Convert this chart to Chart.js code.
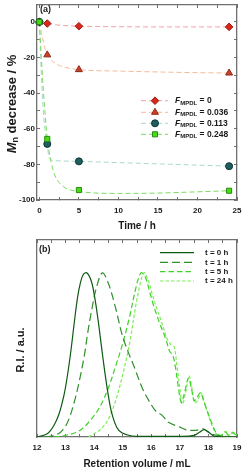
<!DOCTYPE html>
<html>
<head>
<meta charset="utf-8">
<script src="https://cdn.jsdelivr.net/npm/chart.js@4.4.1/dist/chart.umd.min.js"></script>
<style>
  html, body { margin: 0; padding: 0; background: #fff; }
  #chartA { position: absolute; left: 0; top: 0; }
  #chartB { position: absolute; left: 0; top: 232px; }
</style>
</head>
<body>
<canvas id="chartA" width="243" height="234"></canvas>
<canvas id="chartB" width="243" height="239"></canvas>
<script>
// ---- panel (a): Mn decrease vs time ----
const timeH = [0, 1, 5, 24];
const mnF0 = [0, -0.9, -2.4, -2.8];
const mnF036 = [0, -18.5, -26.8, -28.7];
const mnF113 = [0, -68.5, -78.3, -81];
const mnF248 = [0, -65.7, -94.4, -94.8];

// dashed fit curves
const fitTime = [0, 0.25, 0.5, 0.75, 1, 1.25, 1.5, 2, 3, 5, 10, 15, 20, 24];
const fitF0 = [0, -0.3, -0.5, -0.7, -0.9, -1.1, -1.3, -1.6, -2.0, -2.4, -2.7, -2.8, -2.8, -2.8];
const fitF036 = [0, -6, -11, -15.5, -18.5, -20.2, -21.5, -23.3, -25.2, -26.8, -27.6, -28.1, -28.5, -28.7];
const fitF113 = [0, -30, -50, -62, -70, -76.3, -77.5, -77.9, -78.1, -78.3, -79, -79.7, -80.4, -81];
const fitF248 = [0, -20, -38, -53, -65.7, -73, -79, -86.5, -92.3, -95.2, -96.3, -96.1, -95.4, -94.8];

const legendA = ['0', '0.036', '0.113', '0.248'];

// ---- panel (b): GPC traces ----
const volT0 = [12.0, 12.36, 12.59, 12.77, 12.95, 13.07, 13.19, 13.3, 13.42, 13.52, 13.62, 13.74, 13.9, 14.02, 14.14, 14.25, 14.37, 14.49, 14.61, 14.79, 14.97, 15.32, 16, 17, 17.5, 17.7, 17.85, 18.0, 18.2, 18.5, 19];
const riT0 = [0, 0.02, 0.07, 0.14, 0.26, 0.38, 0.53, 0.69, 0.85, 0.94, 0.99, 1.0, 0.95, 0.85, 0.71, 0.56, 0.4, 0.26, 0.15, 0.06, 0.026, 0.006, 0.004, 0.004, 0.01, 0.03, 0.045, 0.03, 0.005, 0, 0];

const volT1 = [12.3, 12.59, 12.83, 13.07, 13.3, 13.48, 13.66, 13.78, 13.9, 14.08, 14.29, 14.51, 14.73, 15.02, 15.44, 15.68, 15.92, 16.15, 16.39, 16.6, 17.0, 17.2, 17.5, 17.7, 17.82, 18.0, 18.17, 18.5, 19];
const riT1 = [0, 0.01, 0.03, 0.09, 0.21, 0.34, 0.5, 0.64, 0.76, 0.91, 1.0, 0.93, 0.8, 0.6, 0.41, 0.3, 0.22, 0.16, 0.13, 0.09, 0.06, 0.045, 0.04, 0.045, 0.05, 0.03, 0.015, 0.005, 0];

const volT5 = [12.6, 13.0, 13.5, 14.0, 14.25, 14.5, 14.75, 15.0, 15.25, 15.45, 15.64, 15.8, 15.95, 16.1, 16.3, 16.5, 16.65, 16.75, 16.85, 16.95, 17.05, 17.15, 17.3, 17.4, 17.5, 17.6, 17.72, 17.85, 18.0, 18.15, 18.3, 18.45, 18.6, 18.7, 18.85, 19.0];
const riT5 = [0, 0.01, 0.04, 0.13, 0.2, 0.3, 0.43, 0.57, 0.74, 0.9, 1.0, 0.97, 0.88, 0.79, 0.69, 0.6, 0.52, 0.5, 0.42, 0.3, 0.21, 0.26, 0.36, 0.3, 0.22, 0.24, 0.27, 0.21, 0.14, 0.07, 0.02, 0.01, 0.03, 0.01, 0.025, 0.005];

const volT24 = [13.8, 14.0, 14.25, 14.5, 14.75, 15.0, 15.25, 15.5, 15.74, 15.9, 16.05, 16.2, 16.4, 16.55, 16.7, 16.8, 16.9, 17.0, 17.08, 17.18, 17.32, 17.42, 17.52, 17.62, 17.74, 17.88, 18.0, 18.15, 18.3, 18.45, 18.6, 18.72, 18.85, 19.0];
const riT24 = [0, 0.02, 0.05, 0.11, 0.22, 0.38, 0.58, 0.84, 1.0, 0.95, 0.86, 0.78, 0.68, 0.6, 0.56, 0.55, 0.43, 0.3, 0.2, 0.25, 0.37, 0.3, 0.21, 0.22, 0.27, 0.2, 0.13, 0.06, 0.015, 0.01, 0.035, 0.01, 0.03, 0.01];

const legendB = ['t = 0 h', 't = 1 h', 't = 5 h', 't = 24 h'];

const FONT = '"Liberation Sans", Arial, sans-serif';
const AXIS = '#707070';

function pts(xs, ys) {
    return xs.map((x, i) => ({ x: x, y: ys[i] }));
}

// draws text pieces one after another: [text, font, dy]
function drawPieces(ctx, parts, x, y) {
    let cx = x;
    parts.forEach(p => {
        ctx.font = p[1];
        ctx.fillText(p[0], cx, y + (p[2] || 0));
        cx += ctx.measureText(p[0]).width;
    });
}
function piecesWidth(ctx, parts) {
    let w = 0;
    parts.forEach(p => { ctx.font = p[1]; w += ctx.measureText(p[0]).width; });
    return w;
}

function stepTicks(from, to, step) {
    const out = [];
    for (let v = from; v <= to + 1e-9; v += step) out.push({ value: Math.round(v * 100) / 100 });
    return out;
}

// fixed scale size, no extra label padding so the plot box lands where wanted
function fixSize(w, h) {
    return s => {
        if (w !== null) s.width = w;
        if (h !== null) s.height = h;
        s.paddingLeft = 0; s.paddingRight = 0; s.paddingTop = 0; s.paddingBottom = 0;
    };
}

// axis box: border line plus short inward tick marks (negative tick length)
function boxAxis(extra) {
    return Object.assign({
        grid: { display: true, drawOnChartArea: false, drawTicks: true, tickLength: -3, tickColor: AXIS, tickWidth: 1 },
        border: { display: true, color: AXIS, width: 1.3 }
    }, extra);
}

const tickFont = { family: FONT, size: 8, weight: 'bold' };

// series styles for panel (a)
const stylesA = [
    { line: '#f2a0a8', fill: '#d8281c', edge: '#a01810', shape: 'rectRot', r: 3.8 },
    { line: '#f6b898', fill: '#cf3f28', edge: '#8a2a18', shape: 'triangle', r: 4 },
    { line: '#a9d9c6', fill: '#1f5e5e', edge: '#0f3434', shape: 'circle', r: 3.5 },
    { line: '#78dc5e', fill: '#46dd14', edge: '#2a8a10', shape: 'rect', r: 3.6 }
];

const textA = {
    id: 'textA',
    afterDraw(chart) {
        const ctx = chart.ctx;
        const a = chart.chartArea;
        ctx.save();
        ctx.fillStyle = '#1a1a1a';
        ctx.textBaseline = 'middle';
        ctx.textAlign = 'left';
        ctx.font = 'bold 9px ' + FONT;
        ctx.fillText('(a)', 40, 10);

        // legend
        const rows = [100.7, 112.3, 123.3, 134.3];
        rows.forEach((y, i) => {
            const s = stylesA[i];
            ctx.strokeStyle = s.line;
            ctx.lineWidth = 1;
            ctx.setLineDash([5, 3]);
            ctx.beginPath();
            ctx.moveTo(141, y); ctx.lineTo(168, y);
            ctx.stroke();
            ctx.setLineDash([]);
            ctx.fillStyle = s.fill;
            ctx.strokeStyle = s.edge;
            Chart.helpers.drawPoint(ctx, { pointStyle: s.shape, radius: s.r, borderWidth: 1, rotation: 0 }, 155, y);
            ctx.fillStyle = '#1a1a1a';
            drawPieces(ctx, [
                ['F', 'italic bold 8.5px ' + FONT, 0],
                ['MPDL', 'bold 6px ' + FONT, 2.5],
                [' = ' + legendA[i], 'bold 8.5px ' + FONT, 0]
            ], 175, y);
        });

        // x title
        ctx.textAlign = 'center';
        ctx.font = 'bold 10px ' + FONT;
        ctx.fillText('Time / h', (a.left + a.right) / 2, 226);

        // y title with subscript
        const parts = [
            ['M', 'italic bold 13px ' + FONT, 0],
            ['n', 'bold 9px ' + FONT, 3.5],
            [' decrease / %', 'bold 13px ' + FONT, 0]
        ];
        ctx.translate(12, 104);
        ctx.rotate(-Math.PI / 2);
        ctx.textAlign = 'left';
        drawPieces(ctx, parts, -piecesWidth(ctx, parts) / 2, 0);
        ctx.restore();
    }
};

const stylesB = [
    { color: '#0e5a12', dash: [] },
    { color: '#2f8f2a', dash: [8, 4] },
    { color: '#3fd02a', dash: [5.5, 3] },
    { color: '#7cee55', dash: [3.5, 2] }
];

const textB = {
    id: 'textB',
    afterDraw(chart) {
        const ctx = chart.ctx;
        const a = chart.chartArea;
        ctx.save();
        ctx.fillStyle = '#1a1a1a';
        ctx.textBaseline = 'middle';
        ctx.textAlign = 'left';
        ctx.font = 'bold 9px ' + FONT;
        ctx.fillText('(b)', 39, 18);

        const rows = [20.7, 30.3, 39.7, 49];
        rows.forEach((y, i) => {
            const s = stylesB[i];
            ctx.strokeStyle = s.color;
            ctx.lineWidth = 1.2;
            ctx.setLineDash(s.dash);
            ctx.beginPath();
            ctx.moveTo(160, y); ctx.lineTo(194, y);
            ctx.stroke();
            ctx.setLineDash([]);
            ctx.font = 'bold 8px ' + FONT;
            ctx.fillText(legendB[i], 205, y);
        });

        ctx.textAlign = 'center';
        ctx.font = 'bold 10px ' + FONT;
        ctx.fillText('Retention volume / mL', (a.left + a.right) / 2, 232);

        ctx.font = 'bold 11px ' + FONT;
        ctx.translate(21, 118);
        ctx.rotate(-Math.PI / 2);
        ctx.fillText('R.I. / a.u.', 0, 0);
        ctx.restore();
    }
};

// ---- chart (a) ----
const seriesA = [
    [fitF0, mnF0], [fitF036, mnF036], [fitF113, mnF113], [fitF248, mnF248]
];
const datasetsA = [];
seriesA.forEach((s, i) => {
    datasetsA.push({
        data: pts(fitTime, s[0]),
        xAxisID: 'x', yAxisID: 'y',
        showLine: true,
        borderColor: stylesA[i].line,
        borderWidth: 1,
        borderDash: [5, 3],
        pointRadius: 0,
        cubicInterpolationMode: 'monotone',
        clip: false,
        order: 10 - i
    });
});
seriesA.forEach((s, i) => {
    datasetsA.push({
        data: pts(timeH, s[1]),
        xAxisID: 'x', yAxisID: 'y',
        showLine: false,
        pointStyle: stylesA[i].shape,
        pointRadius: stylesA[i].r,
        pointBackgroundColor: stylesA[i].fill,
        pointBorderColor: stylesA[i].edge,
        pointBorderWidth: 1,
        clip: false,
        order: 4 - i
    });
});

const xTicksA = s => { s.ticks = stepTicks(0, 25, 2.5); };
const yTicksA = s => { s.ticks = stepTicks(-100, 0, 10); };

new Chart(document.getElementById('chartA'), {
    type: 'scatter',
    data: { datasets: datasetsA },
    options: {
        responsive: false,
        animation: false,
        layout: { padding: { top: 3, right: 6, left: 0, bottom: 0 } },
        plugins: { legend: { display: false }, tooltip: { enabled: false } },
        scales: {
            x: boxAxis({
                position: 'bottom', min: -0.3, max: 25,
                afterBuildTicks: xTicksA,
                afterFit: fixSize(null, 34),
                ticks: {
                    autoSkip: false, maxRotation: 0, padding: 9,
                    color: '#1a1a1a', font: tickFont,
                    callback: v => (v % 5 === 0 ? v : '')
                }
            }),
            y: boxAxis({
                position: 'left', min: -100, max: 9.5,
                afterBuildTicks: yTicksA,
                afterFit: fixSize(37, null),
                ticks: {
                    autoSkip: false, padding: 5,
                    color: '#1a1a1a', font: tickFont,
                    callback: v => (v % 20 === 0 ? v : '')
                }
            }),
            x2: boxAxis({
                type: 'linear', axis: 'x', position: 'top', min: -0.3, max: 25,
                afterBuildTicks: xTicksA,
                afterFit: fixSize(null, 0),
                ticks: { display: false }
            }),
            y2: boxAxis({
                type: 'linear', axis: 'y', position: 'right', min: -100, max: 9.5,
                afterBuildTicks: yTicksA,
                afterFit: fixSize(0, null),
                ticks: { display: false }
            })
        }
    },
    plugins: [textA]
});

// ---- chart (b) ----
const seriesB = [[volT0, riT0], [volT1, riT1], [volT5, riT5], [volT24, riT24]];
const datasetsB = seriesB.map((s, i) => ({
    data: pts(s[0], s[1]),
    xAxisID: 'x', yAxisID: 'y',
    showLine: true,
    borderColor: stylesB[i].color,
    borderWidth: 1.2,
    borderDash: stylesB[i].dash,
    pointRadius: 0,
    tension: 0.35,
    order: i
}));

const xTicksB = s => { s.ticks = stepTicks(12, 19, 0.5); };

new Chart(document.getElementById('chartB'), {
    type: 'scatter',
    data: { datasets: datasetsB },
    options: {
        responsive: false,
        animation: false,
        layout: { padding: { top: 8, right: 6, left: 0, bottom: 0 } },
        plugins: { legend: { display: false }, tooltip: { enabled: false } },
        scales: {
            x: boxAxis({
                position: 'bottom', min: 12, max: 19,
                afterBuildTicks: xTicksB,
                afterFit: fixSize(null, 34),
                ticks: {
                    autoSkip: false, maxRotation: 0, padding: 9,
                    color: '#1a1a1a', font: tickFont,
                    callback: v => (Number.isInteger(v) ? v : '')
                }
            }),
            y: {
                position: 'left', min: 0, max: 1.2,
                grid: { display: false },
                border: { display: true, color: AXIS, width: 1.3 },
                afterFit: fixSize(37, null),
                ticks: { display: false }
            },
            x2: boxAxis({
                type: 'linear', axis: 'x', position: 'top', min: 12, max: 19,
                afterBuildTicks: xTicksB,
                afterFit: fixSize(null, 0),
                ticks: { display: false }
            }),
            y2: {
                type: 'linear', axis: 'y', position: 'right', min: 0, max: 1.2,
                grid: { display: false },
                border: { display: true, color: AXIS, width: 1.3 },
                afterFit: fixSize(0, null),
                ticks: { display: false }
            }
        }
    },
    plugins: [textB]
});
</script>
</body>
</html>
